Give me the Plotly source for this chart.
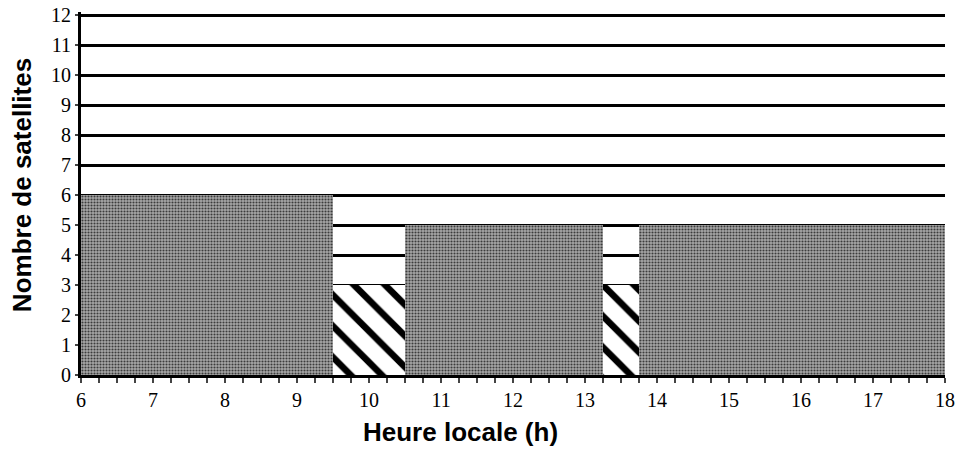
import plotly.graph_objects as go

# Data
start_h = [6.0, 9.5, 10.5, 13.25, 13.75]
end_h = [9.5, 10.5, 13.25, 13.75, 18.0]
n_sat = [6, 3, 5, 3, 5]
kind = ["plein", "raye", "plein", "raye", "plein"]

x_ticks = list(range(6, 19))
y_ticks = list(range(0, 13))

x_title = "Heure locale (h)"
y_title = "Nombre de satellites"

SERIF = "Liberation Serif"
SANS = "Liberation Sans"

fig = go.Figure()

patterns = {
    "plein": dict(shape=".", fgcolor="#3c3c3c", bgcolor="#a8a8a8", size=3, solidity=0.4, fillmode="replace"),
    "raye": dict(shape="\\", fgcolor="#000000", bgcolor="#ffffff", size=22, solidity=0.3, fillmode="replace"),
}

for k in ["plein", "raye"]:
    idx = [i for i, kk in enumerate(kind) if kk == k]
    fig.add_trace(go.Bar(
        x=[(start_h[i] + end_h[i]) / 2 for i in idx],
        y=[n_sat[i] for i in idx],
        width=[end_h[i] - start_h[i] for i in idx],
        marker=dict(color="#888888", line=dict(width=0), pattern=patterns[k]),
        showlegend=False,
        hoverinfo="skip",
    ))

fig.update_layout(
    width=963, height=450,
    margin=dict(l=81, r=18, t=12, b=75),
    paper_bgcolor="white", plot_bgcolor="white",
    font=dict(family=SERIF, size=20, color="black"),
    bargap=0,
    showlegend=False,
    annotations=[
        dict(text=x_title, xref="paper", yref="paper", x=0.4387, y=-0.157,
             xanchor="center", yanchor="middle", showarrow=False,
             font=dict(family=SANS, size=26, color="black", weight="bold")),
        dict(text=y_title, xref="paper", yref="paper", x=-0.0683, y=0.523,
             xanchor="center", yanchor="middle", showarrow=False, textangle=-90,
             font=dict(family=SANS, size=26, color="black", weight="bold")),
    ],
    xaxis=dict(
        range=[6, 18], tickmode="array", tickvals=x_ticks, ticktext=[str(v) for v in x_ticks],
        showline=True, linecolor="black", linewidth=3,
        ticks="outside", ticklen=5, tickcolor="#444444", tickwidth=2,
        minor=dict(dtick=0.25, ticks="outside", ticklen=5, tickcolor="#444444", tickwidth=2),
        showgrid=False, zeroline=False, automargin=False,
        tickfont=dict(family=SERIF, size=20, color="black"),
    ),
    yaxis=dict(
        range=[0, 12.1], tickmode="array", tickvals=y_ticks, ticktext=[str(v) for v in y_ticks],
        showline=True, linecolor="black", linewidth=3,
        ticks="outside", ticklen=3, tickcolor="#444444", tickwidth=2,
        showgrid=True, gridcolor="black", gridwidth=3,
        zeroline=False, automargin=False,
        tickfont=dict(family=SERIF, size=20, color="black"),
    ),
)

fig.write_html("out.html")
